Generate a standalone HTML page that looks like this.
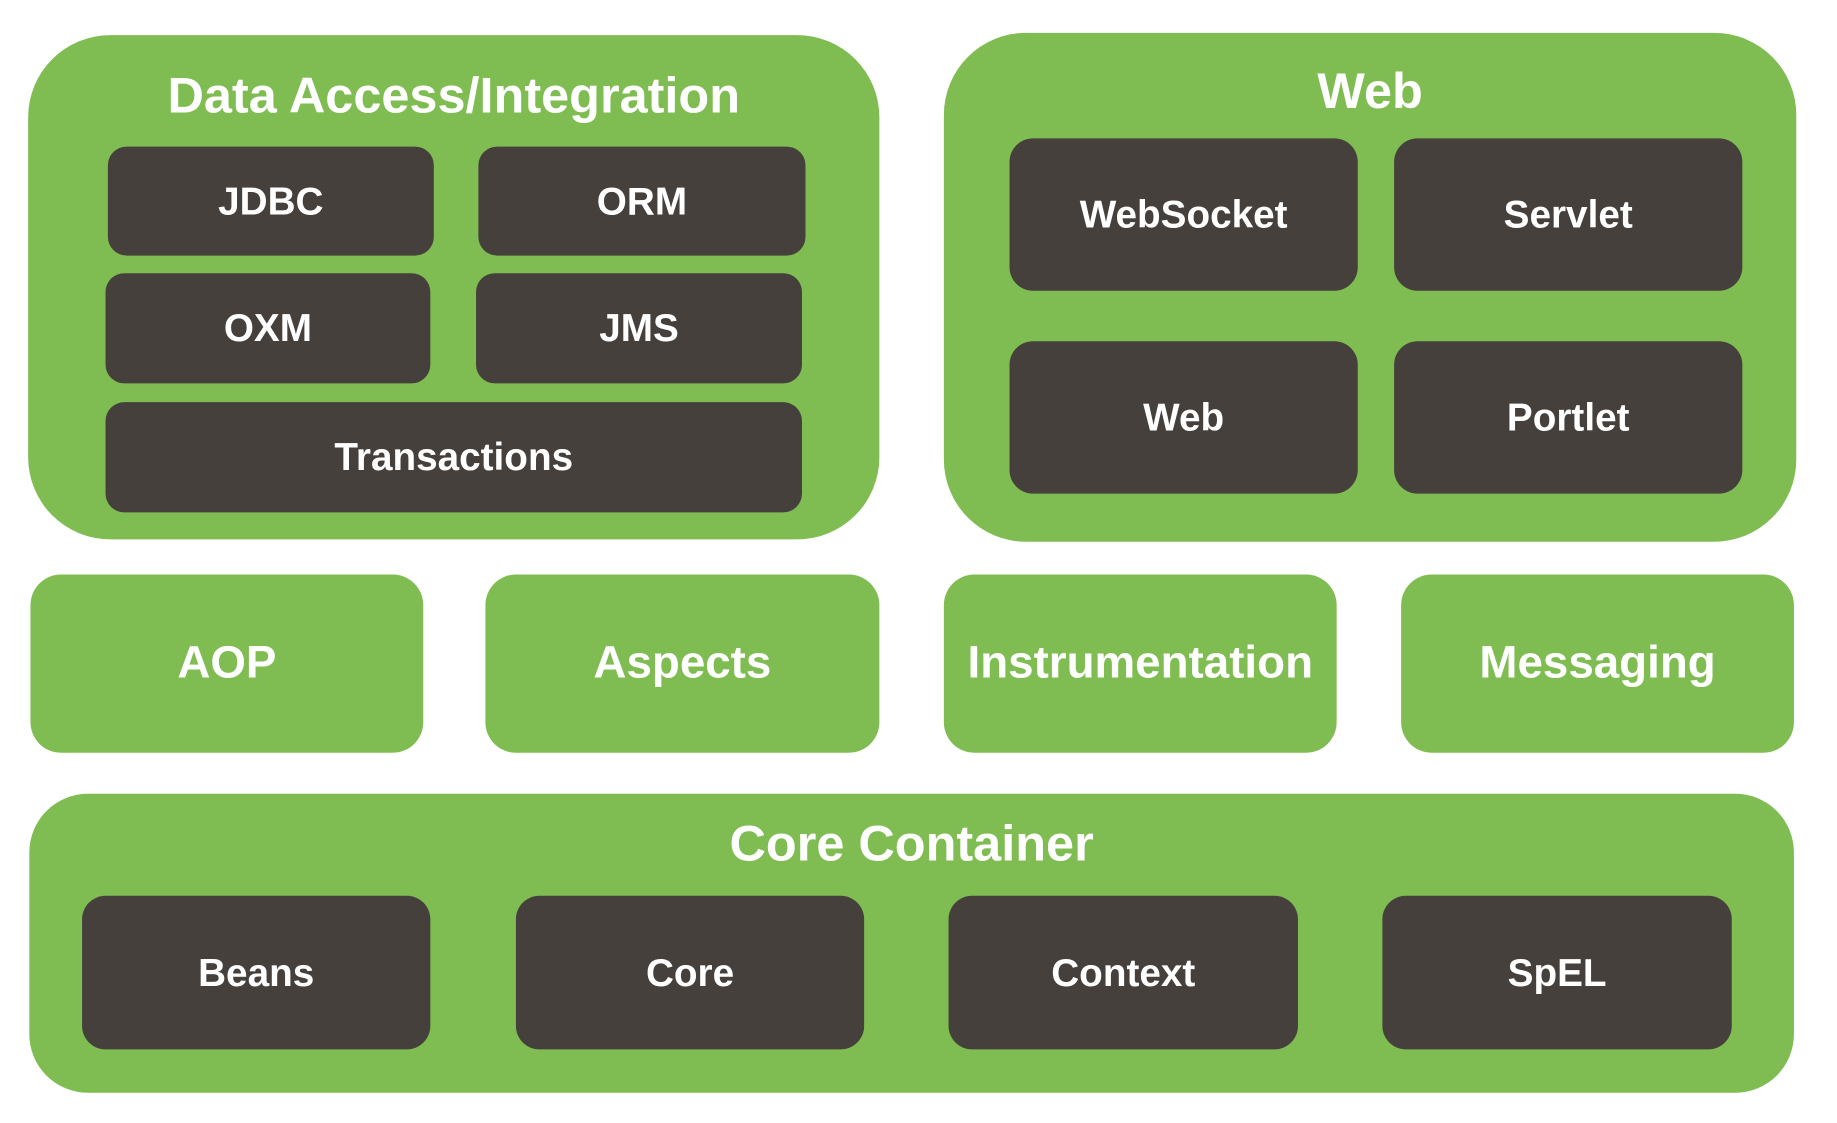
<!DOCTYPE html>
<html><head><meta charset="utf-8"><style>
html,body{margin:0;padding:0;background:#fff;width:1837px;height:1123px;overflow:hidden}
#c{position:absolute;left:0;top:0;width:1563px;height:956px;transform:scale(1.1725);transform-origin:0 0}
.b{position:absolute;display:flex;align-items:center;justify-content:center;color:#fff;font-family:"Liberation Sans",sans-serif;font-weight:bold;box-sizing:border-box}
.g{background:#7fbd52}
.d{background:#46403c;border-radius:16px;font-size:33px}
.t{position:absolute;text-align:center;color:#fff;font-family:"Liberation Sans",sans-serif;font-weight:bold;font-size:43px;line-height:50px}
.m{border-radius:26px;font-size:39px}
</style></head><body><div id="c">
<div class="b g" style="left:24px;top:30px;width:726px;height:430px;border-radius:70px"></div>
<div class="t" style="left:24px;width:726px;top:57px">Data Access/Integration</div>
<div class="b d" style="left:92px;top:125px;width:278px;height:93px">JDBC</div>
<div class="b d" style="left:408px;top:125px;width:279px;height:93px">ORM</div>
<div class="b d" style="left:90px;top:233px;width:277px;height:94px">OXM</div>
<div class="b d" style="left:406px;top:233px;width:278px;height:94px">JMS</div>
<div class="b d" style="left:90px;top:343px;width:594px;height:94px">Transactions</div>

<div class="b g" style="left:805px;top:28px;width:727px;height:434px;border-radius:70px"></div>
<div class="t" style="left:805px;width:727px;top:53px">Web</div>
<div class="b d" style="left:861px;top:118px;width:297px;height:130px;border-radius:20px">WebSocket</div>
<div class="b d" style="left:1189px;top:118px;width:297px;height:130px;border-radius:20px">Servlet</div>
<div class="b d" style="left:861px;top:291px;width:297px;height:130px;border-radius:20px">Web</div>
<div class="b d" style="left:1189px;top:291px;width:297px;height:130px;border-radius:20px">Portlet</div>

<div class="b g m" style="left:26px;top:490px;width:335px;height:152px">AOP</div>
<div class="b g m" style="left:414px;top:490px;width:336px;height:152px">Aspects</div>
<div class="b g m" style="left:805px;top:490px;width:335px;height:152px">Instrumentation</div>
<div class="b g m" style="left:1195px;top:490px;width:335px;height:152px">Messaging</div>

<div class="b g" style="left:25px;top:677px;width:1505px;height:255px;border-radius:50px"></div>
<div class="t" style="left:25px;width:1505px;top:695px">Core Container</div>
<div class="b d" style="left:70px;top:764px;width:297px;height:131px;border-radius:20px">Beans</div>
<div class="b d" style="left:440px;top:764px;width:297px;height:131px;border-radius:20px">Core</div>
<div class="b d" style="left:809px;top:764px;width:298px;height:131px;border-radius:20px">Context</div>
<div class="b d" style="left:1179px;top:764px;width:298px;height:131px;border-radius:20px">SpEL</div>
</div></body></html>
